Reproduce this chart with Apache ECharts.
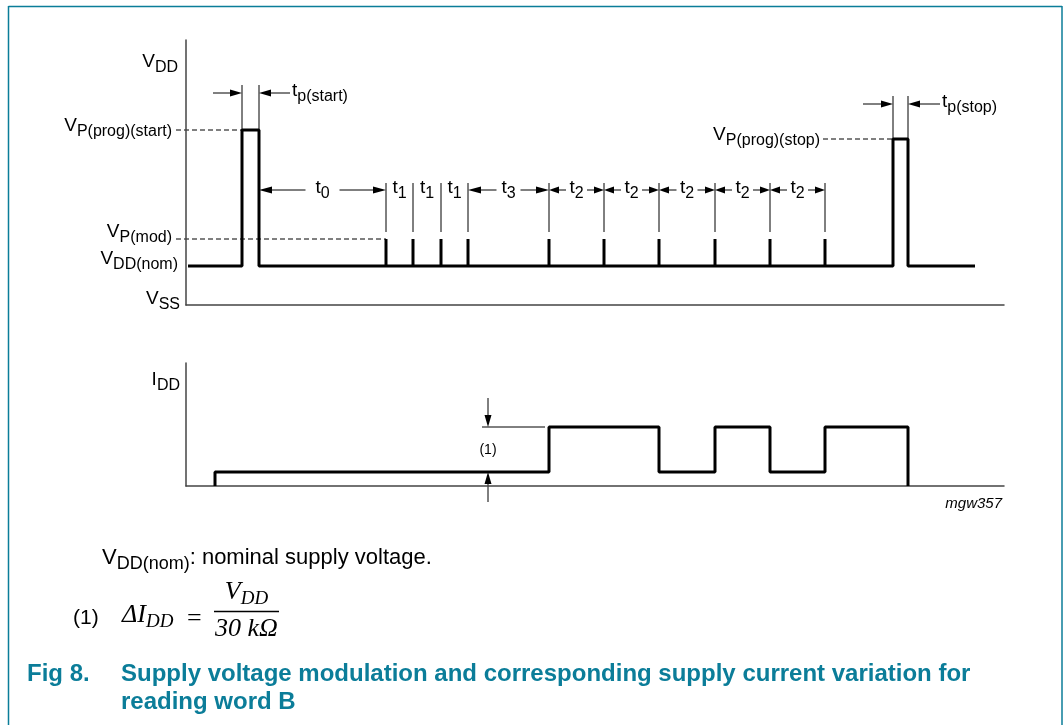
<!DOCTYPE html>
<html>
<head>
<meta charset="utf-8">
<script src="https://cdn.jsdelivr.net/npm/echarts@6.0.0/dist/echarts.min.js"></script>
<style>
html, body { margin: 0; padding: 0; background: #fff; }
#main { width: 1064px; height: 725px; }
</style>
</head>
<body>
<div id="main"></div>
<script>
// time runs in arbitrary units
var timeSpan = 818;
var vAxisTop = 265;
var iAxisTop = 123;

// supply voltage levels
var vss = 0;
var vddNom = 39;
var vpMod = 66;
var vpProgStop = 166;
var vpProgStart = 175;

var traceStart = 2;
var traceEnd = 789;
var startPulse = [56, 73];
var stopPulse = [707, 722];
var modPulses = [200, 227, 255, 282, 363, 418, 473, 529, 584, 639];
// t-index of the gaps between modulation pulses
var gapNames = ['1', '1', '1', '3', '2', '2', '2', '2', '2'];

// supply current steps
var iddTimes = [29, 363, 473, 529, 584, 639, 722];
var iddValues = [14, 59, 14, 59, 14, 59, 0];

var font = 'Liberation Sans, Arial, sans-serif';
var serif = 'Liberation Serif, Times New Roman, serif';
var teal = '#0b7d99';

function vddTrace() {
  var d = [[traceStart, vddNom]];
  d.push([startPulse[0], vddNom], [startPulse[0], vpProgStart], [startPulse[1], vpProgStart], [startPulse[1], vddNom]);
  modPulses.forEach(function (t) {
    d.push([t, vddNom], [t, vpMod], [t, vddNom]);
  });
  d.push([stopPulse[0], vddNom], [stopPulse[0], vpProgStop], [stopPulse[1], vpProgStop], [stopPulse[1], vddNom], [traceEnd, vddNom]);
  return d;
}

function iddTrace() {
  var d = [];
  var level = 0;
  iddTimes.forEach(function (t, i) {
    d.push([t, level], [t, iddValues[i]]);
    level = iddValues[i];
  });
  return d;
}

function axisPair(i, top) {
  return {
    x: {
      gridIndex: i, type: 'value', min: 0, max: timeSpan,
      axisLine: { show: true, onZero: false, lineStyle: { color: '#444', width: 1.5 } },
      axisTick: { show: false }, axisLabel: { show: false }, splitLine: { show: false }
    },
    y: {
      gridIndex: i, type: 'value', min: 0, max: top,
      axisLine: { show: true, onZero: false, lineStyle: { color: '#444', width: 1.5 } },
      axisTick: { show: false }, axisLabel: { show: false }, splitLine: { show: false }
    }
  };
}

var chart = echarts.init(document.getElementById('main'));
var ax0 = axisPair(0, vAxisTop), ax1 = axisPair(1, iAxisTop);

chart.setOption({
  animation: false,
  grid: [
    { left: 186, top: 40, width: 818, height: 265 },
    { left: 186, top: 363, width: 818, height: 123 }
  ],
  xAxis: [ax0.x, ax1.x],
  yAxis: [ax0.y, ax1.y],
  series: [
    {
      type: 'line', xAxisIndex: 0, yAxisIndex: 0, data: vddTrace(),
      showSymbol: false, symbol: 'none', silent: true,
      lineStyle: { color: '#000', width: 3 }
    },
    {
      type: 'line', xAxisIndex: 1, yAxisIndex: 1, data: iddTrace(),
      showSymbol: false, symbol: 'none', silent: true,
      lineStyle: { color: '#000', width: 3 }
    }
  ]
});

function px(g, x, y) {
  return chart.convertToPixel({ gridIndex: g }, [x, y]);
}

var els = [];

function seg(g, x1, y1, x2, y2, dashed) {
  var a = px(g, x1, y1), b = px(g, x2, y2);
  els.push({
    type: 'line', silent: true,
    shape: { x1: a[0], y1: a[1], x2: b[0], y2: b[1] },
    style: { stroke: '#000', lineWidth: 1, lineDash: dashed ? [5, 3] : null }
  });
}

function arrow(g, x1, y1, x2, y2, head) {
  var a = px(g, x1, y1), b = px(g, x2, y2);
  var len = head || 12, w = 3.5;
  var dx = b[0] - a[0], dy = b[1] - a[1];
  var d = Math.sqrt(dx * dx + dy * dy);
  var ux = dx / d, uy = dy / d;
  var bx = b[0] - ux * len, by = b[1] - uy * len;
  els.push({
    type: 'line', silent: true,
    shape: { x1: a[0], y1: a[1], x2: bx, y2: by },
    style: { stroke: '#000', lineWidth: 1 }
  });
  els.push({
    type: 'polygon', silent: true,
    shape: { points: [[b[0], b[1]], [bx - uy * w, by + ux * w], [bx + uy * w, by - ux * w]] },
    style: { fill: '#000' }
  });
}

var rich = {
  m: { fontFamily: font, fontSize: 19, lineHeight: 20, verticalAlign: 'top', fill: '#000' },
  s: { fontFamily: font, fontSize: 16, lineHeight: 16, padding: [8, 0, 0, 0], verticalAlign: 'top', fill: '#000' },
  nm: { fontFamily: font, fontSize: 22, lineHeight: 23, verticalAlign: 'top', fill: '#000' },
  ns: { fontFamily: font, fontSize: 18, lineHeight: 18, padding: [8, 0, 0, 0], verticalAlign: 'top', fill: '#000' },
  fi: { fontFamily: serif, fontSize: 26, fontStyle: 'italic', lineHeight: 28, verticalAlign: 'top', fill: '#000' },
  fs: { fontFamily: serif, fontSize: 19, fontStyle: 'italic', lineHeight: 19, padding: [10, 0, 0, 0], verticalAlign: 'top', fill: '#000' }
};

// x = anchor, y = top of the text block
function rtext(x, y, text, align) {
  els.push({
    type: 'text', silent: true, x: x, y: y,
    style: { text: text, rich: rich, align: align || 'left', verticalAlign: 'top', fill: '#000' }
  });
}

// x, y = anchor x and middle of the main letters
function label(x, y, text, align) {
  rtext(x, y - 10, text, align);
}

function plain(x, y, text, f, align, color) {
  els.push({
    type: 'text', silent: true, x: x, y: y,
    style: { text: text, font: f, fill: color || '#000', align: align || 'left', verticalAlign: 'middle' }
  });
}

function sub(m, s) { return '{m|' + m + '}{s|' + s + '}'; }

// ---- voltage chart annotations
label(178, 62, sub('V', 'DD'), 'right');
label(172, px(0, 0, vpProgStart)[1] - 4, sub('V', 'P(prog)(start)'), 'right');
label(172, px(0, 0, vpMod)[1] - 7, sub('V', 'P(mod)'), 'right');
label(178, px(0, 0, vddNom)[1] - 7, sub('V', 'DD(nom)'), 'right');
label(180, px(0, 0, vss)[1] - 6, sub('V', 'SS'), 'right');
label(820, px(0, 0, vpProgStop)[1] - 4, sub('V', 'P(prog)(stop)'), 'right');

seg(0, -10, vpProgStart, startPulse[0], vpProgStart, true);
seg(0, -10, vpMod, modPulses[0], vpMod, true);
seg(0, 637, vpProgStop, stopPulse[0], vpProgStop, true);

// start / stop pulse widths
seg(0, startPulse[0], vpProgStart, startPulse[0], 220);
seg(0, startPulse[1], vpProgStart, startPulse[1], 220);
arrow(0, 27, 212, startPulse[0], 212);
arrow(0, 104, 212, startPulse[1], 212);
label(px(0, 106, 0)[0], px(0, 0, 212)[1] - 2, sub('t', 'p(start)'));

seg(0, stopPulse[0], vpProgStop, stopPulse[0], 209);
seg(0, stopPulse[1], vpProgStop, stopPulse[1], 209);
arrow(0, 677, 201, stopPulse[0], 201);
arrow(0, 754, 201, stopPulse[1], 201);
label(px(0, 756, 0)[0], px(0, 0, 201)[1] - 2, sub('t', 'p(stop)'));

// intervals between modulation pulses
var dimRow = 115;
modPulses.forEach(function (t) { seg(0, t, 73, t, 122); });

function interval(a, b, name, gap, head) {
  var mid = (a + b) / 2;
  label(px(0, mid, 0)[0], px(0, 0, dimRow)[1] - 2, sub('t', name), 'center');
  if (gap) {
    arrow(0, mid - gap, dimRow, a, dimRow, head);
    arrow(0, mid + gap, dimRow, b, dimRow, head);
  }
}
interval(startPulse[1], modPulses[0], '0', 17, 13);
gapNames.forEach(function (n, i) {
  var gap = n === '1' ? 0 : (n === '3' ? 12 : 10.5);
  interval(modPulses[i], modPulses[i + 1], n, gap, n === '3' ? 13 : 10);
});

// ---- current chart annotations
label(180, px(1, 0, iAxisTop)[1] + 17, sub('I', 'DD'), 'right');
seg(1, 296, 59, 359, 59);
arrow(1, 302, 88, 302, 59, 12);
arrow(1, 302, -16, 302, 14, 12);
plain(px(1, 302, 0)[0], px(1, 0, 36)[1], '(1)', '14px ' + font, 'center');
plain(1002, 504, 'mgw357', 'italic 15px ' + font, 'right');

// ---- notes below the chart
rtext(102, 547, '{nm|V}{ns|DD(nom)}{nm|: nominal supply voltage.}');
plain(73, 618, '(1)', '21px ' + font);
rtext(122, 602, '{fi|\u0394I}{fs|DD}');
plain(187, 619, '=', '26px ' + serif);
rtext(246.5, 579, '{fi|V}{fs|DD}', 'center');
els.push({
  type: 'line', silent: true,
  shape: { x1: 214, y1: 611.5, x2: 279, y2: 611.5 },
  style: { stroke: '#000', lineWidth: 1.5 }
});
plain(246.5, 629, '30 k\u03A9', 'italic 26px ' + serif, 'center');

plain(27, 674, 'Fig 8.', 'bold 24px ' + font, 'left', teal);
plain(121, 674, 'Supply voltage modulation and corresponding supply current variation for', 'bold 24px ' + font, 'left', teal);
plain(121, 702, 'reading word B', 'bold 24px ' + font, 'left', teal);

// frame
els.push({ type: 'line', silent: true, shape: { x1: 8.5, y1: 6.5, x2: 1062, y2: 6.5 }, style: { stroke: teal, lineWidth: 1.5 } });
els.push({ type: 'line', silent: true, shape: { x1: 8.5, y1: 6, x2: 8.5, y2: 725 }, style: { stroke: teal, lineWidth: 1.5 } });
els.push({ type: 'line', silent: true, shape: { x1: 1062, y1: 6, x2: 1062, y2: 725 }, style: { stroke: teal, lineWidth: 1.5 } });

chart.setOption({ graphic: { elements: els } });
</script>
</body>
</html>
